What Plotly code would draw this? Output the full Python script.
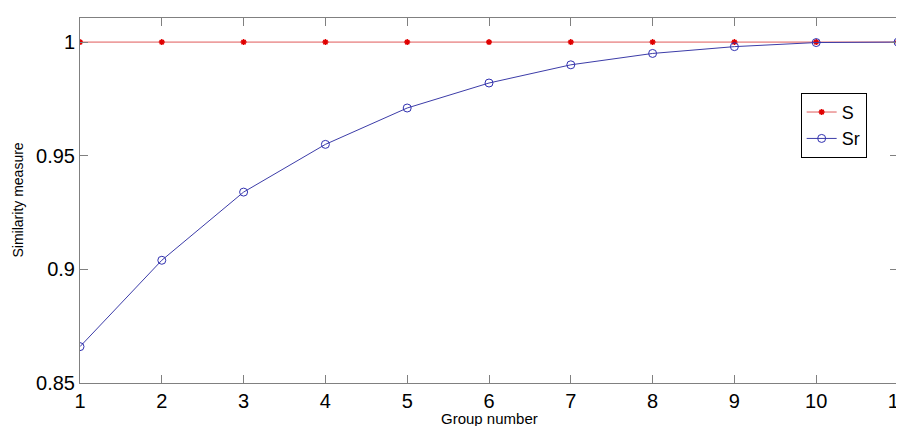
import plotly.graph_objects as go

groups = [1, 2, 3, 4, 5, 6, 7, 8, 9, 10, 11]
s_values = [1, 1, 1, 1, 1, 1, 1, 1, 1, 1, 1]
sr_values = [0.866, 0.904, 0.934, 0.955, 0.971, 0.982, 0.990, 0.995, 0.998, 0.9998, 1.0]
x_ticks = [1, 2, 3, 4, 5, 6, 7, 8, 9, 10, 11]
y_ticks = [0.85, 0.9, 0.95, 1]
y_tick_labels = ["0.85", "0.9", "0.95", "1"]

fig = go.Figure()
fig.add_trace(go.Scatter(
    x=groups, y=s_values, name="S", mode="lines+markers",
    line=dict(color="#e05a5a", width=1),
    marker=dict(symbol="asterisk-open", size=5, color="#e00000",
                line=dict(color="#e00000", width=1.5)),
))
fig.add_trace(go.Scatter(
    x=groups, y=sr_values, name="Sr", mode="lines+markers",
    line=dict(color="#3c3ca8", width=1),
    marker=dict(symbol="circle-open", size=8, color="#3030b0",
                line=dict(color="#3030b0", width=1)),
))

font = "Liberation Sans, Arial, Helvetica, sans-serif"
axis_common = dict(
    showgrid=False, zeroline=False, showline=True, linecolor="#808080",
    linewidth=1, mirror="ticks", ticks="inside", ticklen=8,
    tickcolor="#808080", tickfont=dict(family=font, size=20, color="#000000"),
    automargin=False, ticklabeloverflow="allow",
)

fig.update_xaxes(range=[1, 11], tickvals=x_ticks, **axis_common)
fig.update_yaxes(range=[0.85, 1.0106], tickvals=y_ticks, ticktext=y_tick_labels,
                 **axis_common)

fig.add_annotation(text="Group number", xref="paper", yref="paper", x=0.5, y=0,
                   xanchor="center", yanchor="middle", yshift=-35, showarrow=False,
                   font=dict(family=font, size=15, color="#000"))
fig.add_annotation(text="Similarity measure", xref="paper", yref="paper", x=0, y=0.5,
                   xanchor="center", yanchor="middle", xshift=-63, textangle=-90,
                   showarrow=False, font=dict(family=font, size=14, color="#000"))

fig.update_layout(
    width=896, height=418,
    margin=dict(l=72, r=6, t=10, b=43),
    paper_bgcolor="white", plot_bgcolor="white",
    showlegend=True,
    legend=dict(x=0.881, y=0.795, xanchor="left", yanchor="top",
                bgcolor="white", bordercolor="#000000", borderwidth=1,
                font=dict(family=font, size=18, color="#000"),
                itemwidth=30, tracegroupgap=0),
)

fig.write_html("out.html")
